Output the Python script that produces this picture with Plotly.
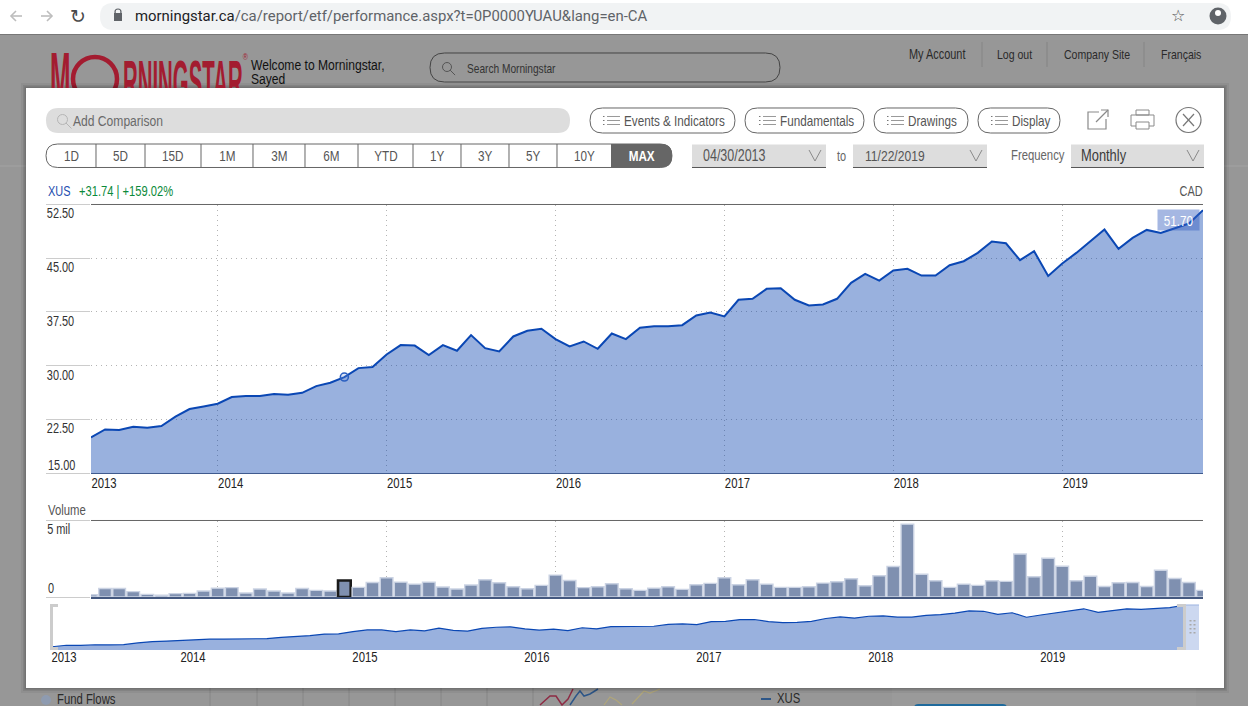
import pandas as pd
import plotly.graph_objects as go

W = 1248
H = 706
NARROW = 'Liberation Sans'
DOT_GRID = '#b4b4b4'
# the reference type is condensed, so the Arial-metric face is squeezed sideways through textLength
JAVASCRIPT = '''document.body.style.margin = "0"; document.body.style.overflow = "hidden";
var squeeze = 0.78;
var gd = document.querySelector(".plotly-graph-div");
document.querySelectorAll(".xtick text, .x3tick text, .ytick text, .y2tick text, text.annotation-text").forEach(function (t) {
    if (t.style.fontFamily.indexOf("Liberation") < 0) { return; }
    var w = t.getComputedTextLength();
    t.setAttribute("lengthAdjust", "spacingAndGlyphs");
    t.setAttribute("textLength", w * squeeze);
    var box = t.closest(".annotation");
    if (box) {
        var anchor = gd.layout.annotations[+box.getAttribute("data-index")].xanchor;
        var dx = anchor === "left" ? -w * (1 - squeeze) / 2 : anchor === "right" ? w * (1 - squeeze) / 2 : 0;
        t.setAttribute("x", parseFloat(t.getAttribute("x")) + dx);
    }
});
document.querySelectorAll(".textpoint text").forEach(function (t) {
    var x = parseFloat(t.getAttribute("x"));
    var y = parseFloat(t.getAttribute("y"));
    t.setAttribute("transform", "translate(" + x * (1 - 0.85) + "," + (46 - 2.5 * y) + ") scale(0.85,2.5)");
});'''

MONTHS = list(pd.period_range('2013-04', '2019-11', freq='M').astype(str))
YEAR_TICKS = ['2013-04', '2014-01', '2015-01', '2016-01', '2017-01', '2018-01', '2019-01']
YEAR_LABELS = ['2013', '2014', '2015', '2016', '2017', '2018', '2019']

PRICE = [
    19.96, 21.09, 21.00, 21.47, 21.33, 21.56, 22.86, 23.93, 24.30, 24.67,
    25.60, 25.74, 25.74, 26.02, 25.93, 26.20, 27.14, 27.60, 28.40, 29.65,
    29.80, 31.56, 32.86, 32.80, 31.47, 32.86, 32.07, 34.26, 32.44, 31.98,
    34.07, 34.86, 35.14, 33.70, 32.67, 33.37, 32.35, 34.49, 33.70, 35.28,
    35.51, 35.51, 35.65, 37.00, 37.42, 36.86, 39.19, 39.33, 40.72, 40.81,
    39.19, 38.40, 38.53, 39.33, 41.56, 42.81, 41.88, 43.28, 43.51, 42.58,
    42.58, 44.02, 44.58, 45.74, 47.33, 47.09, 44.72, 45.98, 42.53, 44.26,
    45.74, 47.37, 49.00, 46.30, 47.84, 48.95, 48.53, 49.19, 49.84, 51.70,
]
VOLUME_MIL = [
    0.15, 0.56, 0.56, 0.35, 0.17, 0.11, 0.22, 0.24, 0.39, 0.58,
    0.61, 0.26, 0.52, 0.39, 0.26, 0.56, 0.43, 0.39, 1.08, 0.63,
    0.95, 1.26, 0.97, 0.84, 0.97, 0.65, 0.52, 0.78, 1.13, 0.93,
    0.67, 0.54, 0.76, 1.43, 1.08, 0.61, 0.67, 0.87, 0.54, 0.43,
    0.58, 0.67, 0.50, 0.80, 0.89, 1.26, 0.80, 1.13, 0.84, 0.63,
    0.63, 0.67, 0.91, 1.00, 1.19, 0.74, 1.39, 1.99, 4.76, 1.49,
    1.06, 0.63, 0.84, 0.76, 1.06, 1.02, 2.81, 1.32, 2.53, 2.01,
    1.06, 1.36, 0.69, 0.93, 0.95, 0.69, 1.75, 1.21, 0.95, 0.43,
]
HOVER_MONTH = '2014-10'

PRICE_TICKS = [15, 22.5, 30, 37.5, 45, 52.5]
PRICE_TICK_LABELS = ['', '22.50', '30.00', '37.50', '45.00', '52.50']
VOLUME_TICKS = [0, 5]
VOLUME_TICK_LABELS = ['', '5 mil']

RANGE_BUTTONS = ['1D', '5D', '15D', '1M', '3M', '6M', 'YTD', '1Y', '3Y', '5Y', '10Y']
RANGE_EDGES = [46, 96, 145, 201, 253, 305, 358, 413, 461, 509, 557, 611]

shapes = []
notes = []


def px(x):
    return x / W


def py(y):
    return 1 - y / H


def rect(x0, y0, x1, y1, fill, line=None, width=1, layer='below'):
    shapes.append(dict(type='rect', xref='paper', yref='paper', x0=px(x0), y0=py(y0), x1=px(x1), y1=py(y1),
                       fillcolor=fill, line=dict(color=line or 'rgba(0,0,0,0)', width=width if line else 0),
                       layer=layer))


def circle(cx, cy, r, fill='rgba(0,0,0,0)', line=None, width=1):
    shapes.append(dict(type='circle', xref='paper', yref='paper', x0=px(cx - r), y0=py(cy - r), x1=px(cx + r),
                       y1=py(cy + r), fillcolor=fill,
                       line=dict(color=line or 'rgba(0,0,0,0)', width=width if line else 0), layer='below'))


def poly(points, color, width=1, layer='below'):
    path = 'M' + ' L'.join(f'{px(x):.5f},{py(y):.5f}' for x, y in points)
    shapes.append(dict(type='path', xref='paper', yref='paper', path=path, line=dict(color=color, width=width),
                       layer=layer))


def pill(x0, y0, x1, y1, fill='rgba(0,0,0,0)', line=None, width=1, r=None):
    r = (y1 - y0) / 2 if r is None else r
    p = [
        f'M{px(x0 + r):.5f},{py(y0):.5f}', f'L{px(x1 - r):.5f},{py(y0):.5f}',
        f'Q{px(x1):.5f},{py(y0):.5f} {px(x1):.5f},{py(y0 + r):.5f}', f'L{px(x1):.5f},{py(y1 - r):.5f}',
        f'Q{px(x1):.5f},{py(y1):.5f} {px(x1 - r):.5f},{py(y1):.5f}', f'L{px(x0 + r):.5f},{py(y1):.5f}',
        f'Q{px(x0):.5f},{py(y1):.5f} {px(x0):.5f},{py(y1 - r):.5f}', f'L{px(x0):.5f},{py(y0 + r):.5f}',
        f'Q{px(x0):.5f},{py(y0):.5f} {px(x0 + r):.5f},{py(y0):.5f}', 'Z',
    ]
    shapes.append(dict(type='path', xref='paper', yref='paper', path=' '.join(p), fillcolor=fill,
                       line=dict(color=line or 'rgba(0,0,0,0)', width=width if line else 0), layer='below'))


def text(x, y, s, size=14.5, color='#444444', anchor='left', family=NARROW):
    notes.append(dict(xref='paper', yref='paper', x=px(x), y=py(y), text=s, showarrow=False, xanchor=anchor,
                      yanchor='middle', borderpad=0, font=dict(family=family, size=size, color=color)))


def magnifier(cx, cy, r, color):
    circle(cx, cy, r, line=color)
    poly([(cx + r * 0.7, cy + r * 0.7), (cx + r * 1.8, cy + r * 1.8)], color)


def chevron(cx, cy, color='#8a8a8a'):
    poly([(cx - 6, cy - 5), (cx, cy + 6), (cx + 6, cy - 5)], color)


def menu_icon(x, cy):
    for dy in (-4, 0, 4):
        poly([(x, cy + dy), (x + 1.5, cy + dy)], '#777777')
        poly([(x + 4, cy + dy), (x + 17, cy + dy)], '#999999')


# browser bar
rect(0, 0, W, 34, '#ffffff')
rect(0, 34, W, 35, '#777777')
pill(100, 3, 1231, 30, fill='#f1f3f4')
poly([(22, 16), (11, 16)], '#bdbdbd', 1.6)
poly([(16, 11), (11, 16), (16, 21)], '#bdbdbd', 1.6)
poly([(41, 16), (52, 16)], '#bdbdbd', 1.6)
poly([(47, 11), (52, 16), (47, 21)], '#bdbdbd', 1.6)
text(77.5, 15.5, '↻', 19, '#4a4a4a', 'center', 'DejaVu Sans')
rect(114, 13, 122, 21, '#5f6368')
circle(118, 12, 3, line='#5f6368', width=1.2)
text(134, 16, '<span style="color:#202124">morningstar.ca</span>/ca/report/etf/performance.aspx?t=0P0000YUAU&amp;lang=en-CA',
     14.9, '#5f6368', family='Roboto')
text(1178, 16, '☆', 16, '#555555', 'center', 'DejaVu Sans')
circle(1218, 16, 8.5, fill='#5f6368')
circle(1218, 13, 3, fill='#ffffff')

# page behind the dialog
text(250, 64, 'Welcome to Morningstar,', 15.5, '#111111')
text(250, 78.5, 'Sayed', 15.5, '#111111')
text(245, 57, '®', 9, '#a31c30', 'center')
pill(430, 53, 780, 82, line='#444444')
magnifier(447, 67, 4.5, '#555555')
text(466, 68, 'Search Morningstar', 13, '#333333')
text(908, 54, 'My Account', 14, '#2a2a2a')
text(996, 54, 'Log out', 13.5, '#2a2a2a')
text(1063, 54, 'Company Site', 13.5, '#2a2a2a')
text(1160, 54, 'Français', 13.5, '#2a2a2a')
for x in (982, 1047, 1144):
    poly([(x, 42), (x, 67)], '#858585')
circle(95, 79, 22, line='#a31c30', width=4.5)
poly([(0, 166), (26, 166)], '#a3a3a3')
poly([(1224, 166), (W, 166)], '#a3a3a3')
rect(892, 688, 1196, H, '#9a9a9a')
for x in (210, 257, 303, 349, 395, 441, 487, 533):
    poly([(x, 688), (x, H)], '#868686')
circle(46, 700, 5, fill='#8e9bb0')
text(56, 699, 'Fund Flows', 14.5, '#2a2a2a')
poly([(540, 705), (550, 696), (556, 696), (562, 705), (568, 699), (573, 689)], '#8d2b44', 1.5)
poly([(570, 705), (576, 696), (580, 691), (584, 696), (590, 694), (598, 689)], '#2d5688', 1.5)
poly([(604, 705), (610, 697), (616, 700), (622, 705)], '#b0a67a', 1.2)
poly([(632, 704), (644, 691), (650, 693), (660, 689)], '#b0a67a', 1.2)
poly([(761, 699), (771, 699)], '#2d5688', 2)
text(776, 698, 'XUS', 14.5, '#2a2a2a')
pill(914, 704, 1007, 712, fill='#1f6a9c')

# dialog
for grow, alpha in ((5, 0.05), (3, 0.08), (1.5, 0.12)):
    rect(26 - grow, 88 - grow, 1224 + grow, 688 + grow, f'rgba(0,0,0,{alpha})')
rect(26, 88, 1224, 688, '#ffffff')

pill(46, 108, 570, 133, fill='#dddddd')
magnifier(62.5, 119.5, 5, '#b5b5b5')
text(72, 120.5, 'Add Comparison', 15.5, '#6a6a6a')
for x0, x1, tx, label in ((590, 735, 623, 'Events &amp; Indicators'), (745, 864, 779, 'Fundamentals'),
                          (874, 968, 907, 'Drawings'), (978, 1060, 1011, 'Display')):
    pill(x0, 108, x1, 133, line='#666666')
    menu_icon(tx - 20, 120.5)
    text(tx, 120.5, label, 15, '#555555')

poly([(1099, 112), (1088, 112), (1088, 129), (1106, 129), (1106, 119)], '#8a8a8a', 1.2)
poly([(1096, 122), (1108, 110)], '#8a8a8a', 1.2)
poly([(1101, 110), (1108, 110), (1108, 117)], '#8a8a8a', 1.2)
rect(1136, 110, 1149, 115, 'rgba(0,0,0,0)', '#8a8a8a')
rect(1131, 115, 1154, 126, 'rgba(0,0,0,0)', '#8a8a8a')
rect(1136, 122, 1149, 129, '#ffffff', '#8a8a8a')
circle(1188.5, 120, 12.5, line='#777777', width=1.2)
poly([(1183, 114), (1194, 126)], '#777777', 1.2)
poly([(1194, 114), (1183, 126)], '#777777', 1.2)

pill(46, 144, 672, 167.5, line='#666666')
for left, right, label in zip(RANGE_EDGES[:-1], RANGE_EDGES[1:], RANGE_BUTTONS):
    text((left + right) / 2, 155.5, label, 15, '#555555', 'center')
for x in RANGE_EDGES[1:-1]:
    poly([(x, 144), (x, 167.5)], '#666666')
pill(611, 144, 672, 167.5, fill='#666666', r=11)
rect(611, 144, 625, 167.5, '#666666')
text(641.5, 155.5, '<b>MAX</b>', 15, '#ffffff', 'center')

for x0, x1, tx, label, size, color in ((692, 826, 702, '04/30/2013', 16, '#555555'),
                                       (853, 987, 864, '11/22/2019', 15.5, '#555555'),
                                       (1071, 1204, 1080, 'Monthly', 16.5, '#3a3a3a')):
    rect(x0, 144.5, x1, 167, '#dddddd')
    poly([(x0, 167.5), (x1, 167.5)], '#555555')
    text(tx, 155.5, label, size, color)
    chevron(x1 - 11, 155)
text(836, 156.5, 'to', 14, '#666666')
text(1010, 155.5, 'Frequency', 14.5, '#666666')

text(47, 191, 'XUS', 14, '#1f4fb0')
text(78, 191, '+31.74 | +159.02%', 14.3, '#0b8a3a')
text(1204, 191, 'CAD', 14, '#555555', 'right')
text(47, 510, 'Volume', 14.5, '#555555')
text(47, 464.5, '15.00', 14, '#333333')
text(47, 588, '0', 14, '#333333')

poly([(91, 204.5), (1203, 204.5)], '#666666')
poly([(91, 520.5), (1203, 520.5)], '#666666')

# navigator brackets and the lighter end of the strip
rect(1185, 605, 1199, 650, '#ccd8f0', layer='above')
poly([(1185, 605), (1199, 605)], '#9db3e0', 1, 'above')
poly([(58, 605.5), (51.5, 605.5), (51.5, 648.5), (58, 648.5)], '#cccccc', 3, 'above')
poly([(1177, 605.5), (1184.5, 605.5), (1184.5, 648.5), (1177, 648.5)], '#cccccc', 3, 'above')
for gx in (1189.5, 1193.5):
    for gy in (620, 624, 628, 632):
        rect(gx, gy, gx + 2, gy + 1.5, '#a9a9a9', layer='above')

fig = go.Figure()

fig.add_trace(go.Scatter(x=MONTHS, y=PRICE, mode='lines', fill='tozeroy', fillcolor='rgba(0,61,173,0.4)',
                         line=dict(color='#0a47b4', width=2), xaxis='x', yaxis='y', hoverinfo='skip'))
hover_i = MONTHS.index(HOVER_MONTH)
fig.add_trace(go.Scatter(x=[MONTHS[hover_i]], y=[PRICE[hover_i]], mode='markers',
                         marker=dict(size=8, color='rgba(120,150,220,0.25)', line=dict(color='#2b5fc0', width=1.6)),
                         xaxis='x', yaxis='y', hoverinfo='skip'))

line_colors = ['#cbd3e3'] * len(MONTHS)
line_widths = [1.4] * len(MONTHS)
line_colors[hover_i] = '#1a1a1a'
line_widths[hover_i] = 2.6
fig.add_trace(go.Bar(x=MONTHS, y=VOLUME_MIL, marker=dict(color='#7f90b0', line=dict(color=line_colors, width=line_widths)),
                     xaxis='x2', yaxis='y2', hoverinfo='skip'))

fig.add_trace(go.Scatter(x=MONTHS, y=PRICE, mode='lines', fill='tozeroy', fillcolor='rgba(0,61,173,0.4)',
                         line=dict(color='#0a47b4', width=1.2), xaxis='x3', yaxis='y3', hoverinfo='skip'))

# logo letters, clipped by their own subplot where the dialog starts
fig.add_trace(go.Scatter(x=[50, 123], y=[70, 70], mode='text', text=['M', 'RNINGSTAR'], textposition='middle right',
                         textfont=dict(family=NARROW, size=[29, 24], color='#a31c30', weight='bold'),
                         xaxis='x4', yaxis='y4', hoverinfo='skip'))

x_common = dict(type='category', categoryorder='array', categoryarray=MONTHS, tickmode='array', tickvals=YEAR_TICKS,
                showgrid=True, gridcolor=DOT_GRID, griddash='1px,4px', gridwidth=1, zeroline=False, ticks='')
y_common = dict(tickmode='array', ticks='outside', ticklen=44, tickcolor='#cccccc', tickwidth=1, zeroline=False,
                showline=False, ticklabelshift=9, tickfont=dict(family=NARROW, size=14, color='#333333'))
year_font = dict(family=NARROW, size=14.5, color='#222222')

fig.update_layout(
    template='none',
    width=W,
    height=H,
    margin=dict(l=0, r=0, t=0, b=0),
    paper_bgcolor='#979797',
    plot_bgcolor='rgba(0,0,0,0)',
    showlegend=False,
    hovermode=False,
    bargap=0.1,
    shapes=shapes,
    annotations=notes + [dict(
        xref='paper', yref='paper', x=px(1178.5), y=py(220), text=f'{PRICE[-1]:.2f}', showarrow=False, width=39,
        height=18, xanchor='center', yanchor='middle', bgcolor='rgba(56,96,190,0.45)',
        font=dict(family=NARROW, size=15, color='#ffffff'),
    )],
    xaxis=dict(domain=[px(91), px(1203)], range=[0, 79], anchor='y', ticktext=YEAR_LABELS, ticklabelshift=13,
               ticklabelstandoff=-3, tickfont=year_font, showline=True, linecolor='#3f5a8e', linewidth=1,
               automargin=False, **x_common),
    yaxis=dict(domain=[py(473), py(204.5)], range=[15, 52.5], anchor='x', tickvals=PRICE_TICKS,
               ticktext=PRICE_TICK_LABELS, showgrid=True, gridcolor=DOT_GRID, griddash='1px,4px',
               ticklabelstandoff=-31, automargin=False, **y_common),
    xaxis2=dict(domain=[px(91), px(1203)], range=[0, 79], anchor='y2', showticklabels=False, showline=True,
                linecolor='#44587f', linewidth=1.5, automargin=False, **x_common),
    yaxis2=dict(domain=[py(597), py(520.5)], range=[0, 5], anchor='x2', tickvals=VOLUME_TICKS,
                ticktext=VOLUME_TICK_LABELS, showgrid=False, ticklabelstandoff=-27, automargin=False, **y_common),
    xaxis3=dict(domain=[px(52), px(1199)], range=[0, 80.04], anchor='y3', ticktext=YEAR_LABELS, ticklabelshift=12,
                ticklabelstandoff=-4, tickfont=year_font, showline=False, automargin=False,
                **{**x_common, 'showgrid': False}),
    yaxis3=dict(domain=[py(650), py(605)], range=[17.46, 51.9], anchor='x3', visible=False),
    xaxis4=dict(domain=[0, 1], range=[0, W], anchor='y4', visible=False),
    yaxis4=dict(domain=[py(88), py(50)], range=[88, 50], anchor='x4', visible=False),
)

fig.write_html('out.html', post_script=[JAVASCRIPT], config={'displayModeBar': False})
